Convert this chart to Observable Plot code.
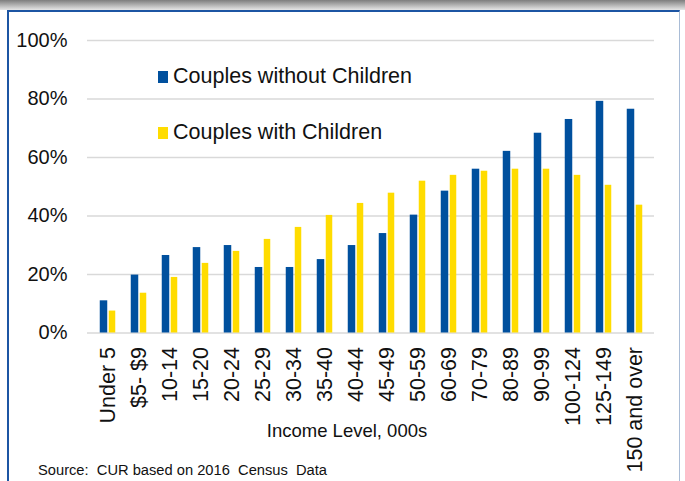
<!DOCTYPE html>
<html>
<head>
<meta charset="utf-8">
<script src="https://cdn.jsdelivr.net/npm/d3@7"></script>
<script src="https://cdn.jsdelivr.net/npm/@observablehq/plot@0.6"></script>
<style>
  html, body { margin: 0; padding: 0; background: #fff; }
  #wrap { position: relative; width: 685px; height: 481px; overflow: hidden; font-family: "Liberation Sans", Arial, sans-serif; }
  #topbar { position: absolute; left: 0; top: 0; width: 685px; height: 10px; background: linear-gradient(#7d7d7d, #e6e6e6); }
  #frame { position: absolute; left: 7px; top: 10px; width: 673px; height: 480px; border-top: 2px solid #1c55a3; border-left: 2px solid #1c55a3; border-right: 1px solid #a9bcd6; box-sizing: border-box; }
  #chart { position: absolute; left: 0; top: 0; }
  #overlay { position: absolute; left: 0; top: 0; pointer-events: none; }
</style>
</head>
<body>
<div id="wrap">
  <div id="topbar"></div>
  <div id="frame"></div>
  <div id="chart"></div>
  <svg id="overlay" width="685" height="481" font-family="Liberation Sans, Arial, sans-serif"></svg>
</div>
<script>
const categories = ["Under 5", "$5- $9", "10-14", "15-20", "20-24", "25-29", "30-34", "35-40", "40-44", "45-49", "50-59", "60-69", "70-79", "80-89", "90-99", "100-124", "125-149", "150 and over"];
const withoutChildren = [0.11, 0.198, 0.265, 0.292, 0.299, 0.224, 0.224, 0.251, 0.299, 0.34, 0.403, 0.485, 0.56, 0.621, 0.683, 0.73, 0.792, 0.765];
const withChildren = [0.075, 0.136, 0.19, 0.238, 0.279, 0.32, 0.361, 0.402, 0.443, 0.478, 0.519, 0.539, 0.553, 0.56, 0.56, 0.539, 0.505, 0.437];
const yTicks = [0, 0.2, 0.4, 0.6, 0.8, 1.0];
const seriesNames = ["Couples without Children", "Couples with Children"];
const seriesColors = ["#00509e", "#ffdc00"];

const rowsA = categories.map((c, i) => ({cat: c, v: withoutChildren[i]}));
const rowsB = categories.map((c, i) => ({cat: c, v: withChildren[i]}));

const band = 567 / categories.length; // 31.5
const half = band / 2;

const plot = Plot.plot({
  width: 685,
  height: 481,
  marginLeft: 87,
  marginRight: 31,
  marginTop: 40,
  marginBottom: 148.5,
  style: {fontFamily: "Liberation Sans, Arial, sans-serif", fontSize: "20px", color: "#111", background: "transparent"},
  x: {domain: categories, padding: 0, label: null},
  y: {domain: [0, 1], label: null},
  marks: [
    Plot.ruleY(yTicks, {stroke: "#d9d9d9", strokeWidth: 1.6}),
    Plot.barY(rowsA, {x: "cat", y: "v", fill: seriesColors[0], insetLeft: half - 8, insetRight: half}),
    Plot.barY(rowsB, {x: "cat", y: "v", fill: seriesColors[1], insetLeft: half + 1, insetRight: half - 8}),
    Plot.axisY({ticks: yTicks, tickFormat: d => Math.round(d * 100) + "%", tickSize: 0, tickPadding: 20, fontSize: 20, fill: "#111"}),
    Plot.axisX({tickRotate: -90, tickSize: 0, tickPadding: 14, fontSize: 21.5, fill: "#111"})
  ]
});
document.getElementById("chart").appendChild(plot);

const ov = d3.select("#overlay");
const legendY = [83, 139];
seriesNames.forEach((name, i) => {
  ov.append("rect").attr("x", 158).attr("y", legendY[i] - 12).attr("width", 10).attr("height", 12).attr("fill", seriesColors[i]);
  ov.append("text").attr("x", 173).attr("y", legendY[i]).attr("font-size", 21.5).attr("fill", "#111").text(name);
});
ov.append("text").attr("x", 347).attr("y", 437).attr("text-anchor", "middle").attr("font-size", 18.5).attr("fill", "#111").text("Income Level, 000s");
ov.append("text").attr("x", 38).attr("y", 475).attr("font-size", 14.7).attr("fill", "#111").attr("xml:space", "preserve").style("white-space", "pre").text("Source:  CUR based on 2016  Census  Data");
</script>
</body>
</html>
